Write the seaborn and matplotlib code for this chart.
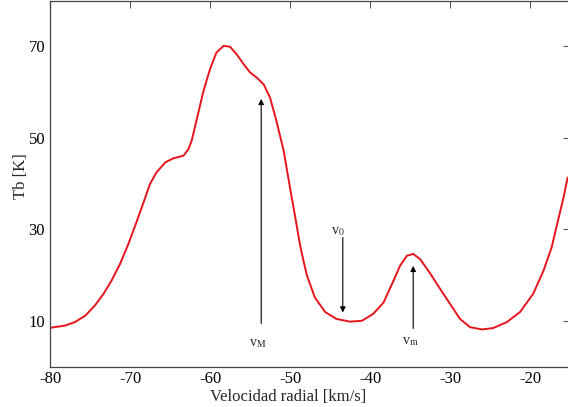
import numpy as np
import pandas as pd
import seaborn as sns
from matplotlib import pyplot as plt

# perfil de temperatura de brillo
velocidad = [-80, -78.1, -76.9, -75.6, -74.4, -73.3, -72.3, -71.25, -70.2,
             -69.2, -68.3, -67.5, -66.7, -65.6, -64.6, -63.3, -62.7, -62.3,
             -61.7, -60.8, -60, -59.2, -58.3, -57.5, -56.7, -55.8, -55,
             -54.2, -53.3, -52.5, -51.7, -50.8, -50, -49.2, -48.75, -48.3,
             -47.9, -46.9, -45.6, -44.2, -42.5, -41.0, -39.6, -38.3, -37.1,
             -36.25, -35.4, -34.6, -33.75, -32.5, -31.25, -30, -28.75, -27.5,
             -26.0, -24.6, -22.9, -21.25, -19.6, -18.3, -17.3, -16.5, -15.8,
             -15.3]
tb = [8.45, 8.95, 9.7, 11.1, 13.3, 15.9, 18.8, 22.4, 26.8,
      31.5, 35.9, 39.9, 42.4, 44.6, 45.5, 46.1, 47.5, 49.3,
      53.7, 60.3, 65.0, 68.6, 70.1, 69.9, 68.3, 66.1, 64.3,
      63.2, 61.7, 58.8, 53.7, 47.2, 39.1, 31.2, 26.6, 23.0,
      20.0, 15.1, 11.9, 10.4, 9.8, 10.0, 11.5, 14.0, 18.6,
      22.0, 24.2, 24.6, 23.5, 20.4, 17.0, 13.7, 10.4, 8.6,
      8.1, 8.4, 9.7, 11.9, 15.9, 21.0, 26.0, 31.9, 37.0,
      41.3]

# flechas
flecha_nombres = [r"v$_{\rm M}$", r"v$_{\rm 0}$", r"v$_{\rm m}$"]
flecha_x = [-53.6, -43.4, -34.6]
flecha_y0 = [9.4, 28.2, 8.3]
flecha_y1 = [58.5, 11.8, 22.0]
texto_x = [-54.0, -44.0, -35.0]
texto_y = [5.0, 29.5, 5.4]

xticks = [-80, -70, -60, -50, -40, -30, -20]
yticks = [10, 30, 50, 70]

sns.set_style("white")
plt.rcParams["font.family"] = ["Liberation Serif", "DejaVu Serif"]
plt.rcParams["mathtext.fontset"] = "stix"
plt.rcParams["axes.unicode_minus"] = False

df = pd.DataFrame({"v": velocidad, "tb": tb})

fig = plt.figure(figsize=(5.68, 4.07), dpi=100)
ax = fig.add_axes([50 / 568, 40.5 / 407, 520 / 568, 366 / 407])

sns.lineplot(data=df, x="v", y="tb", color="#e8141b", linewidth=1.4, ax=ax)

for nom, x, y0, y1, tx, ty in zip(flecha_nombres, flecha_x, flecha_y0,
                                  flecha_y1, texto_x, texto_y):
    ax.annotate("", xy=(x, y1), xytext=(x, y0),
                arrowprops=dict(arrowstyle="-|>", color="black", lw=0.8,
                                mutation_scale=8, shrinkA=0, shrinkB=0))
    ax.text(tx, ty, nom, fontsize=10, ha="center", va="center")

ax.set_xlim(-80, -15)
ax.set_ylim(0, 80)
ax.set_xticks(xticks)
ax.set_yticks(yticks)
ax.tick_params(direction="in", length=5, width=0.8, labelsize=12,
               top=True, right=True, colors="#555555", labelcolor="black")
for s in ax.spines.values():
    s.set_color("#444444")
    s.set_linewidth(0.9)

ax.set_xlabel("Velocidad radial [km/s]", fontsize=12, labelpad=1, x=0.457)
ax.set_ylabel("Tb [K]", fontsize=12)
ax.yaxis.set_label_coords(-0.04, 0.52)

fig.savefig("out.png", dpi=100)
